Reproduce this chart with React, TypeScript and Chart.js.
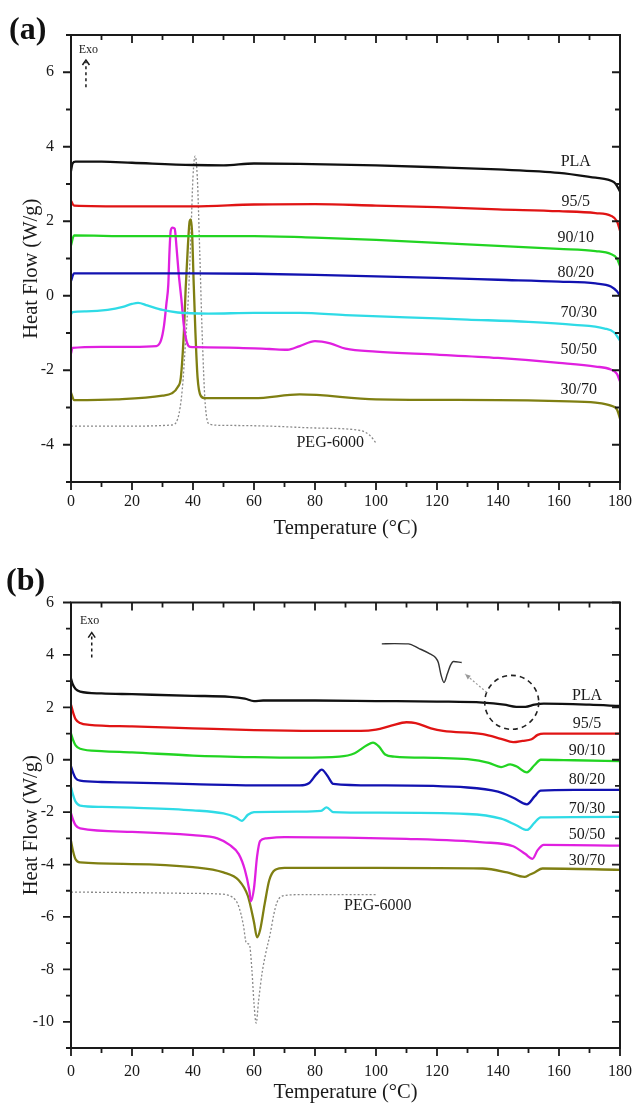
import React, { useEffect, useRef } from "react";
import { Chart, registerables } from "chart.js";
Chart.register(...registerables);

const FONT = '"Liberation Serif", "DejaVu Serif", serif';

// ---------- Panel (a) ----------
const a_PLA_T = [0, 0.5, 1.5, 10, 20, 40, 50, 60, 75, 100, 120, 140, 160, 172, 176, 178, 179, 180];
const a_PLA_Y = [3.35, 3.55, 3.6, 3.6, 3.57, 3.51, 3.5, 3.55, 3.54, 3.5, 3.45, 3.39, 3.3, 3.17, 3.12, 3.05, 2.95, 2.8];

const a_95_T = [0, 1, 20, 40, 60, 80, 100, 120, 140, 160, 172, 177, 179, 180];
const a_95_Y = [2.55, 2.42, 2.4, 2.4, 2.45, 2.46, 2.42, 2.38, 2.32, 2.27, 2.22, 2.15, 2.0, 1.75];

const a_90_T = [0, 1, 20, 40, 60, 80, 100, 120, 140, 160, 172, 177, 179, 180];
const a_90_Y = [1.35, 1.62, 1.6, 1.6, 1.6, 1.56, 1.5, 1.42, 1.34, 1.26, 1.2, 1.12, 1.0, 0.8];

const a_80_T = [0, 1, 20, 40, 60, 80, 100, 120, 140, 160, 172, 177, 179, 180];
const a_80_Y = [0.4, 0.6, 0.6, 0.6, 0.59, 0.56, 0.52, 0.48, 0.43, 0.38, 0.33, 0.25, 0.12, 0.0];

const a_70_T = [0, 0.5, 5, 12, 17, 20, 22, 25, 30, 35, 45, 60, 75, 90, 110, 130, 150, 165, 175, 178, 180];
const a_70_Y = [-0.5, -0.44, -0.42, -0.38, -0.3, -0.22, -0.19, -0.26, -0.38, -0.45, -0.48, -0.46, -0.46, -0.52, -0.58, -0.64, -0.7, -0.78, -0.88, -0.98, -1.2];

const a_50_T = [0, 0.5, 10, 20, 28, 29.5, 30.5, 31.3, 31.9, 32.3, 32.7, 33.3, 34, 34.6, 35.3, 36.2, 37, 38, 39, 41, 55, 65, 71, 75, 80, 85, 90, 100, 120, 140, 160, 172, 177, 179, 180];
const a_50_Y = [-1.55, -1.4, -1.37, -1.37, -1.35, -1.2, -0.8, -0.2, 0.3, 1.2, 1.75, 1.83, 1.8, 1.3, 0.6, -0.1, -0.8, -1.25, -1.37, -1.38, -1.4, -1.43, -1.45, -1.35, -1.22, -1.28, -1.42, -1.5, -1.58, -1.67, -1.8, -1.9, -1.98, -2.1, -2.3];

const a_30_T = [0, 1, 15, 30, 33, 35, 36, 37, 37.6, 38.3, 38.9, 39.3, 39.7, 40.2, 40.8, 41.5, 42.5, 44, 60, 75, 100, 140, 160, 172, 177, 179, 180];
const a_30_Y = [-2.6, -2.8, -2.78, -2.68, -2.62, -2.45, -2.2, -1.0, 0.2, 1.3, 2.0, 2.05, 1.7, 0.4, -1.0, -2.2, -2.68, -2.75, -2.75, -2.65, -2.78, -2.8, -2.83, -2.87, -2.95, -3.05, -3.3];

const a_PEG_T = [0, 20, 33, 35, 36.5, 37.5, 38.5, 39.3, 40, 40.7, 41.4, 42.2, 43, 44, 45.5, 50, 65, 80, 95, 98, 100];
const a_PEG_Y = [-3.5, -3.5, -3.47, -3.3, -2.5, -1.3, 0.0, 1.6, 3.2, 3.75, 3.2, 1.2, -1.0, -2.9, -3.45, -3.48, -3.5, -3.55, -3.62, -3.75, -3.95];

// ---------- Panel (b) ----------
const b_PLA_T = [0, 0.5, 1.5, 3, 10, 20, 40, 52, 57, 60, 63, 80, 100, 120, 135, 142, 146, 149, 152, 155, 170, 180];
const b_PLA_Y = [3.1, 2.9, 2.7, 2.6, 2.53, 2.5, 2.44, 2.4, 2.33, 2.24, 2.26, 2.26, 2.24, 2.22, 2.18, 2.1, 2.02, 2.02, 2.1, 2.14, 2.1, 2.05];

const b_95_T = [0, 0.7, 1.5, 3, 6, 20, 40, 60, 80, 95, 100, 105, 110, 113, 118, 122, 135, 141, 145, 148, 151, 153, 155, 180];
const b_95_Y = [2.1, 1.8, 1.55, 1.4, 1.33, 1.27, 1.2, 1.13, 1.1, 1.1, 1.15, 1.3, 1.43, 1.4, 1.2, 1.1, 0.98, 0.8, 0.67, 0.72, 0.78, 0.95, 1.0, 1.0];

const b_90_T = [0, 0.7, 1.5, 3, 10, 20, 40, 60, 75, 88, 93, 97, 99, 101, 103, 106, 120, 130, 137, 141, 144, 146, 149.5, 152, 154, 165, 180];
const b_90_Y = [1.0, 0.75, 0.55, 0.42, 0.33, 0.28, 0.16, 0.1, 0.08, 0.12, 0.25, 0.55, 0.65, 0.5, 0.2, 0.12, 0.07, 0.02, -0.12, -0.28, -0.18, -0.25, -0.48, -0.2, 0.0, -0.02, -0.05];

const b_80_T = [0, 0.7, 1.5, 3, 10, 20, 40, 60, 75, 78, 80.5, 82.2, 84, 86, 100, 130, 140, 145, 149.5, 152, 154, 165, 180];
const b_80_Y = [-0.25, -0.5, -0.7, -0.8, -0.85, -0.87, -0.93, -0.98, -0.98, -0.9, -0.55, -0.38, -0.6, -0.92, -0.98, -1.06, -1.22, -1.45, -1.7, -1.4, -1.18, -1.15, -1.15];

const b_70_T = [0, 0.7, 1.5, 3, 10, 20, 40, 50, 54, 56, 58, 60, 75, 82, 83.8, 86, 100, 130, 141, 146, 149.5, 152, 154, 180];
const b_70_Y = [-1.05, -1.35, -1.6, -1.75, -1.8, -1.83, -1.93, -2.05, -2.2, -2.33, -2.1, -2.0, -1.98, -1.95, -1.82, -2.0, -2.02, -2.07, -2.25, -2.5, -2.68, -2.4, -2.2, -2.18];

const b_50_T = [0, 0.7, 1.5, 3, 20, 40, 48, 52, 55, 57, 58.5, 59, 60, 61, 62, 64, 70, 110, 135, 145, 149, 151.3, 153, 155, 180];
const b_50_Y = [-2.05, -2.3, -2.5, -2.62, -2.75, -2.88, -3.0, -3.25, -3.6, -4.2, -5.0, -5.4, -4.9, -3.7, -3.1, -3.0, -2.95, -3.02, -3.15, -3.3, -3.6, -3.78, -3.45, -3.25, -3.28];

const b_30_T = [0, 0.7, 1.5, 3, 20, 40, 50, 55, 58, 60, 61, 62, 63.5, 65, 67, 70, 100, 135, 143, 148.7, 150.5, 152, 154.6, 180];
const b_30_Y = [-3.1, -3.5, -3.8, -3.92, -3.98, -4.1, -4.3, -4.6, -5.2, -6.2, -6.78, -6.5, -5.5, -4.6, -4.2, -4.13, -4.13, -4.15, -4.3, -4.47, -4.38, -4.3, -4.15, -4.2];

const b_PEG_T = [0, 20, 40, 48, 53, 55, 56.5, 57.5, 58.5, 59.3, 60, 60.7, 61.5, 62.7, 64, 65.3, 66.5, 67.5, 69.3, 75, 100];
const b_PEG_Y = [-5.05, -5.07, -5.1, -5.12, -5.25, -5.6, -6.3, -7.0, -7.05, -8.0, -9.3, -10.05, -9.2, -8.1, -7.3, -6.65, -5.9, -5.45, -5.2, -5.15, -5.15];

// magnified PLA melting region (inset)
const b_inset_T = [101.9, 106, 110.6, 114, 117.7, 119.5, 120.4, 121.4, 122.3, 123.4, 124.4, 125.4, 128.1];
const b_inset_Y = [4.42, 4.43, 4.42, 4.25, 4.04, 3.9, 3.72, 3.2, 2.95, 3.28, 3.6, 3.75, 3.71];

// curve labels
const seriesNames = ["PLA", "95/5", "90/10", "80/20", "70/30", "50/50", "30/70", "PEG-6000"];
const a_labelT = [165.5, 165.5, 165.5, 165.5, 166.5, 166.5, 166.5, 85];
const a_labelY = [3.6, 2.52, 1.55, 0.62, -0.45, -1.45, -2.52, -3.94];
const b_labelT = [169.2, 169.2, 169.2, 169.2, 169.2, 169.2, 169.2, 100.6];
const b_labelY = [2.44, 1.37, 0.34, -0.76, -1.87, -2.86, -3.85, -5.57];

const COLORS = ["#111111", "#e01414", "#22d422", "#1212b0", "#2fdbe6", "#e020e0", "#7f7f12"];

const zip = (xs: number[], ys: number[]) => xs.map((x, i) => ({ x, y: ys[i] }));

type PanelCfg = {
  series: [number[], number[]][];
  peg: [number[], number[]];
  inset?: [number[], number[]];
  yMin: number;
  yMax: number;
  labelT: number[];
  labelY: number[];
  exo: { tx: number; ty: number; ax: number; ay0: number; ay1: number };
  circle?: { cx: number; cy: number; r: number; fromX: number; fromY: number; toX: number; toY: number };
  padTop: number;
  xHeight: number;
  xTickPad: number;
  xTitlePadBottom: number;
  yTitle: string;
  height: number;
};

function makeDecor(cfg: PanelCfg) {
  return {
    id: "decor",
    afterDatasetsDraw(chart: any) {
      const { ctx, chartArea: ca, scales } = chart;
      const x = scales.x, y = scales.y;
      ctx.save();
      ctx.strokeStyle = "#1a1a1a";
      ctx.lineWidth = 2;
      ctx.strokeRect(ca.left, ca.top, ca.right - ca.left, ca.bottom - ca.top);
      ctx.lineWidth = 1.8;
      ctx.beginPath();
      for (let v = 0; v <= 180; v += 10) {
        const px = x.getPixelForValue(v);
        const len = v % 20 === 0 ? 8 : 5;
        ctx.moveTo(px, ca.bottom);
        ctx.lineTo(px, ca.bottom + len);
        ctx.moveTo(px, ca.top);
        ctx.lineTo(px, ca.top + len);
      }
      for (let v = cfg.yMin; v <= cfg.yMax; v += 1) {
        const py = y.getPixelForValue(v);
        const len = v % 2 === 0 ? 8 : 5;
        ctx.moveTo(ca.left - len, py);
        ctx.lineTo(ca.left, py);
        ctx.moveTo(ca.right - len, py);
        ctx.lineTo(ca.right, py);
      }
      ctx.stroke();

      // curve labels
      ctx.fillStyle = "#1a1a1a";
      ctx.font = `16px ${FONT}`;
      ctx.textAlign = "center";
      ctx.textBaseline = "middle";
      seriesNames.forEach((n, i) => {
        ctx.fillText(n, x.getPixelForValue(cfg.labelT[i]), y.getPixelForValue(cfg.labelY[i]));
      });

      // Exo marker
      const e = cfg.exo;
      ctx.font = `12px ${FONT}`;
      ctx.fillText("Exo", x.getPixelForValue(e.tx), y.getPixelForValue(e.ty));
      const axp = x.getPixelForValue(e.ax);
      const y0 = y.getPixelForValue(e.ay0), y1 = y.getPixelForValue(e.ay1);
      ctx.lineWidth = 1.5;
      ctx.setLineDash([3, 3]);
      ctx.beginPath();
      ctx.moveTo(axp, y0);
      ctx.lineTo(axp, y1 + 2);
      ctx.stroke();
      ctx.setLineDash([]);
      ctx.beginPath();
      ctx.moveTo(axp - 3.5, y1 + 5);
      ctx.lineTo(axp, y1);
      ctx.lineTo(axp + 3.5, y1 + 5);
      ctx.stroke();

      if (cfg.circle) {
        const c = cfg.circle;
        ctx.strokeStyle = "#222";
        ctx.lineWidth = 1.6;
        ctx.setLineDash([5, 4]);
        ctx.beginPath();
        ctx.arc(x.getPixelForValue(c.cx), y.getPixelForValue(c.cy), c.r, 0, Math.PI * 2);
        ctx.stroke();
        const fx = x.getPixelForValue(c.fromX), fy = y.getPixelForValue(c.fromY);
        const tx = x.getPixelForValue(c.toX), ty = y.getPixelForValue(c.toY);
        ctx.strokeStyle = "#999";
        ctx.lineWidth = 1.2;
        ctx.setLineDash([2, 2]);
        ctx.beginPath();
        ctx.moveTo(fx, fy);
        ctx.lineTo(tx, ty);
        ctx.stroke();
        ctx.setLineDash([]);
        const ang = Math.atan2(ty - fy, tx - fx);
        ctx.fillStyle = "#999";
        ctx.beginPath();
        ctx.moveTo(tx, ty);
        ctx.lineTo(tx - 6 * Math.cos(ang - 0.4), ty - 6 * Math.sin(ang - 0.4));
        ctx.lineTo(tx - 6 * Math.cos(ang + 0.4), ty - 6 * Math.sin(ang + 0.4));
        ctx.closePath();
        ctx.fill();
      }
      ctx.restore();
    },
  };
}

function Panel({ cfg }: { cfg: PanelCfg }) {
  const ref = useRef<HTMLCanvasElement | null>(null);
  useEffect(() => {
    if (!ref.current) return;
    const datasets: any[] = cfg.series.map(([t, v], i) => ({
      label: seriesNames[i],
      data: zip(t, v),
      borderColor: COLORS[i],
      borderWidth: 2.3,
      pointRadius: 0,
      fill: false,
      cubicInterpolationMode: "monotone",
    }));
    datasets.push({
      label: "PEG-6000",
      data: zip(cfg.peg[0], cfg.peg[1]),
      borderColor: "#8a8a8a",
      borderWidth: 1.3,
      borderDash: [2, 2],
      pointRadius: 0,
      fill: false,
      cubicInterpolationMode: "monotone",
    });
    if (cfg.inset) {
      datasets.push({
        label: "inset",
        data: zip(cfg.inset[0], cfg.inset[1]),
        borderColor: "#333",
        borderWidth: 1.4,
        pointRadius: 0,
        fill: false,
        cubicInterpolationMode: "monotone",
      });
    }
    const chart = new Chart(ref.current, {
      type: "line",
      data: { datasets },
      options: {
        animation: false,
        responsive: false,
        devicePixelRatio: 1,
        layout: { padding: { top: cfg.padTop, right: 12, left: 0, bottom: 0 } },
        plugins: { legend: { display: false }, tooltip: { enabled: false } },
        scales: {
          x: {
            type: "linear",
            min: 0,
            max: 180,
            grid: { display: false, drawTicks: false },
            border: { display: false },
            ticks: {
              stepSize: 10,
              autoSkip: false,
              maxRotation: 0,
              padding: cfg.xTickPad,
              color: "#1a1a1a",
              font: { family: FONT, size: 16 },
              callback: (v: any) => (Number(v) % 20 === 0 ? String(v) : ""),
            },
            title: {
              display: true,
              text: "Temperature (\u00B0C)",
              color: "#1a1a1a",
              font: { family: FONT, size: 20.5, lineHeight: 1 },
              padding: { top: 0, bottom: cfg.xTitlePadBottom },
            },
            afterFit: (s: any) => {
              s.height = cfg.xHeight;
              s.paddingLeft = 0;
              s.paddingRight = 0;
            },
          },
          y: {
            type: "linear",
            min: cfg.yMin,
            max: cfg.yMax,
            grid: { display: false, drawTicks: false },
            border: { display: false },
            ticks: {
              stepSize: 1,
              autoSkip: false,
              padding: 17,
              color: "#1a1a1a",
              font: { family: FONT, size: 16 },
              callback: (v: any) => (Number(v) % 2 === 0 ? String(v) : ""),
            },
            title: {
              display: true,
              text: cfg.yTitle,
              color: "#1a1a1a",
              font: { family: FONT, size: 20.5, lineHeight: 1 },
              padding: { top: 21, bottom: 0 },
            },
            afterFit: (s: any) => {
              s.width = 71;
              s.paddingTop = 0;
              s.paddingBottom = 0;
            },
          },
        },
      },
      plugins: [makeDecor(cfg)],
    } as any);
    return () => chart.destroy();
  }, [cfg]);
  return <canvas ref={ref} width={632} height={cfg.height} style={{ display: "block" }} />;
}

const cfgA: PanelCfg = {
  series: [
    [a_PLA_T, a_PLA_Y],
    [a_95_T, a_95_Y],
    [a_90_T, a_90_Y],
    [a_80_T, a_80_Y],
    [a_70_T, a_70_Y],
    [a_50_T, a_50_Y],
    [a_30_T, a_30_Y],
  ],
  peg: [a_PEG_T, a_PEG_Y],
  yMin: -5,
  yMax: 7,
  labelT: a_labelT,
  labelY: a_labelY,
  exo: { tx: 5.7, ty: 6.6, ax: 4.9, ay0: 5.6, ay1: 6.33 },
  padTop: 35,
  xHeight: 63,
  xTickPad: 10,
  xTitlePadBottom: 6.5,
  yTitle: "Heat Flow (W/g)    ",
  height: 545,
};

const cfgB: PanelCfg = {
  series: [
    [b_PLA_T, b_PLA_Y],
    [b_95_T, b_95_Y],
    [b_90_T, b_90_Y],
    [b_80_T, b_80_Y],
    [b_70_T, b_70_Y],
    [b_50_T, b_50_Y],
    [b_30_T, b_30_Y],
  ],
  peg: [b_PEG_T, b_PEG_Y],
  inset: [b_inset_T, b_inset_Y],
  yMin: -11,
  yMax: 6,
  labelT: b_labelT,
  labelY: b_labelY,
  exo: { tx: 6.1, ty: 5.3, ax: 6.8, ay0: 3.9, ay1: 4.85 },
  circle: { cx: 144.5, cy: 2.19, r: 27, fromX: 136.3, fromY: 2.57, toX: 129.2, toY: 3.27 },
  padTop: 57.5,
  xHeight: 55,
  xTickPad: 14,
  xTitlePadBottom: 0,
  yTitle: "Heat Flow (W/g)",
  height: 558,
};

export default function App() {
  return (
    <div
      style={{
        position: "absolute",
        left: 0,
        top: 0,
        width: 632,
        height: 1103,
        overflow: "hidden",
        background: "#fff",
      }}
    >
      <div style={{ position: "absolute", left: 0, top: 0 }}>
        <Panel cfg={cfgA} />
      </div>
      <div style={{ position: "absolute", left: 0, top: 545 }}>
        <Panel cfg={cfgB} />
      </div>
      <div
        style={{
          position: "absolute",
          left: 9,
          top: 12,
          font: `bold 32px ${FONT}`,
          lineHeight: "32px",
          color: "#111",
        }}
      >
        (a)
      </div>
      <div
        style={{
          position: "absolute",
          left: 6,
          top: 563,
          font: `bold 32px ${FONT}`,
          lineHeight: "32px",
          color: "#111",
        }}
      >
        (b)
      </div>
    </div>
  );
}
